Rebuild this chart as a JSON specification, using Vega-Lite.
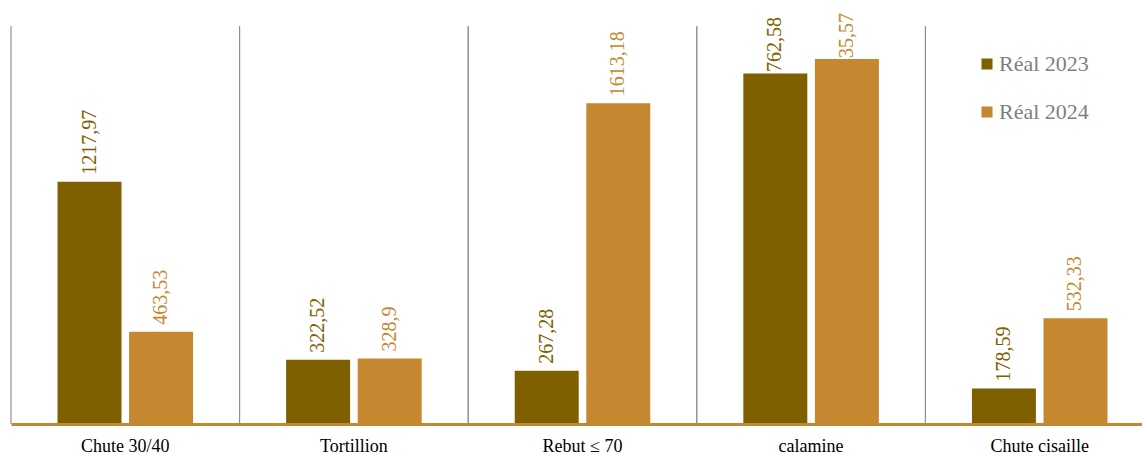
{
  "$schema": "https://vega.github.io/schema/vega-lite/v6.json",
  "width": 1131,
  "height": 411,
  "autosize": {"type": "none"},
  "padding": {"left": 11, "top": 13, "right": 0, "bottom": 30},
  "background": "white",
  "config": {
    "view": {"stroke": null},
    "font": "Liberation Serif",
    "locale": {"number": {"decimal": ",", "thousands": " ", "grouping": [3], "currency": ["", " €"]}}
  },
  "data": {
    "values": [
      {"cat": "Chute 30/40", "year": "Réal 2023", "value": 1217.97},
      {"cat": "Chute 30/40", "year": "Réal 2024", "value": 463.53},
      {"cat": "Tortillion", "year": "Réal 2023", "value": 322.52},
      {"cat": "Tortillion", "year": "Réal 2024", "value": 328.9},
      {"cat": "Rebut  ≤ 70", "year": "Réal 2023", "value": 267.28},
      {"cat": "Rebut  ≤ 70", "year": "Réal 2024", "value": 1613.18},
      {"cat": "calamine", "year": "Réal 2023", "value": 1762.58},
      {"cat": "calamine", "year": "Réal 2024", "value": 1835.57},
      {"cat": "Chute cisaille", "year": "Réal 2023", "value": 178.59},
      {"cat": "Chute cisaille", "year": "Réal 2024", "value": 532.33}
    ]
  },
  "layer": [
    {
      "mark": {"type": "rule"},
      "encoding": {
        "x": {
          "field": "cat", "type": "nominal", "sort": null, "bandPosition": 0,
          "scale": {"range": [0, 1143], "paddingInner": 0, "paddingOuter": 0},
          "axis": {
            "title": null, "domainColor": "#C5872F", "domainWidth": 3, "ticks": false, "grid": false,
            "labelFontSize": 18, "labelColor": "#000000", "labelPadding": 27, "labelBaseline": "alphabetic",
            "labelAngle": 0, "labelFont": "Liberation Serif", "zindex": 1
          }
        },
        "y": {"datum": 0, "type": "quantitative", "scale": {"domain": [0, 2067], "nice": false, "zero": true}, "axis": null},
        "y2": {"datum": 2000},
        "color": {"condition": {"test": "datum.cat === 'Chute 30/40'", "value": "#bfbfbf"}, "value": "#8c8c8c"},
        "strokeWidth": {"condition": {"test": "datum.cat === 'Chute 30/40'", "value": 2}, "value": 1}
      }
    },
    {
      "mark": {"type": "text", "angle": 270, "align": "right", "baseline": "middle", "fontSize": 20, "dx": -4, "dy": -35.8, "color": "#7F6000"},
      "encoding": {
        "x": {"field": "cat", "type": "nominal", "sort": null},
        "y": {"datum": 2067, "type": "quantitative", "axis": null},
        "text": {"field": "value", "type": "quantitative", "format": ".2~f"},
        "opacity": {"condition": {"test": "datum.value >= 1700 && datum.year === 'Réal 2023'", "value": 1}, "value": 0}
      }
    },
    {
      "mark": {"type": "text", "angle": 270, "align": "right", "baseline": "middle", "fontSize": 20, "dy": 35.8, "color": "#C5872F"},
      "encoding": {
        "x": {"field": "cat", "type": "nominal", "sort": null},
        "y": {"datum": 2067, "type": "quantitative", "axis": null},
        "text": {"field": "value", "type": "quantitative", "format": ".2~f"},
        "opacity": {"condition": {"test": "datum.value >= 1700 && datum.year === 'Réal 2024'", "value": 1}, "value": 0}
      }
    },
    {
      "mark": {"type": "bar"},
      "encoding": {
        "x": {"field": "cat", "type": "nominal", "sort": null},
        "xOffset": {"field": "year", "type": "nominal", "scale": {"paddingInner": 0.106, "paddingOuter": 0.65}},
        "y": {"field": "value", "type": "quantitative", "scale": {"domain": [0, 2067], "nice": false}, "axis": null},
        "color": {
          "field": "year", "type": "nominal",
          "scale": {"domain": ["Réal 2023", "Réal 2024"], "range": ["#7F6000", "#C5872F"]},
          "legend": {
            "title": null, "orient": "none", "legendX": 965, "legendY": 40,
            "symbolType": "square", "symbolSize": 121, "symbolStrokeWidth": 0,
            "labelFontSize": 22, "labelColor": "#7f7f7f", "labelFont": "Liberation Serif",
            "rowPadding": 26, "labelOffset": 1, "padding": 0
          }
        }
      }
    },
    {
      "mark": {"type": "text", "angle": 270, "align": "left", "baseline": "middle", "dx": 7, "fontSize": 20},
      "encoding": {
        "x": {"field": "cat", "type": "nominal", "sort": null},
        "xOffset": {"field": "year", "type": "nominal"},
        "y": {"field": "value", "type": "quantitative", "axis": null},
        "text": {"field": "value", "type": "quantitative", "format": ".2~f"},
        "color": {"field": "year", "type": "nominal"},
        "opacity": {"condition": {"test": "datum.value >= 1700", "value": 0}, "value": 1}
      }
    }
  ]
}
